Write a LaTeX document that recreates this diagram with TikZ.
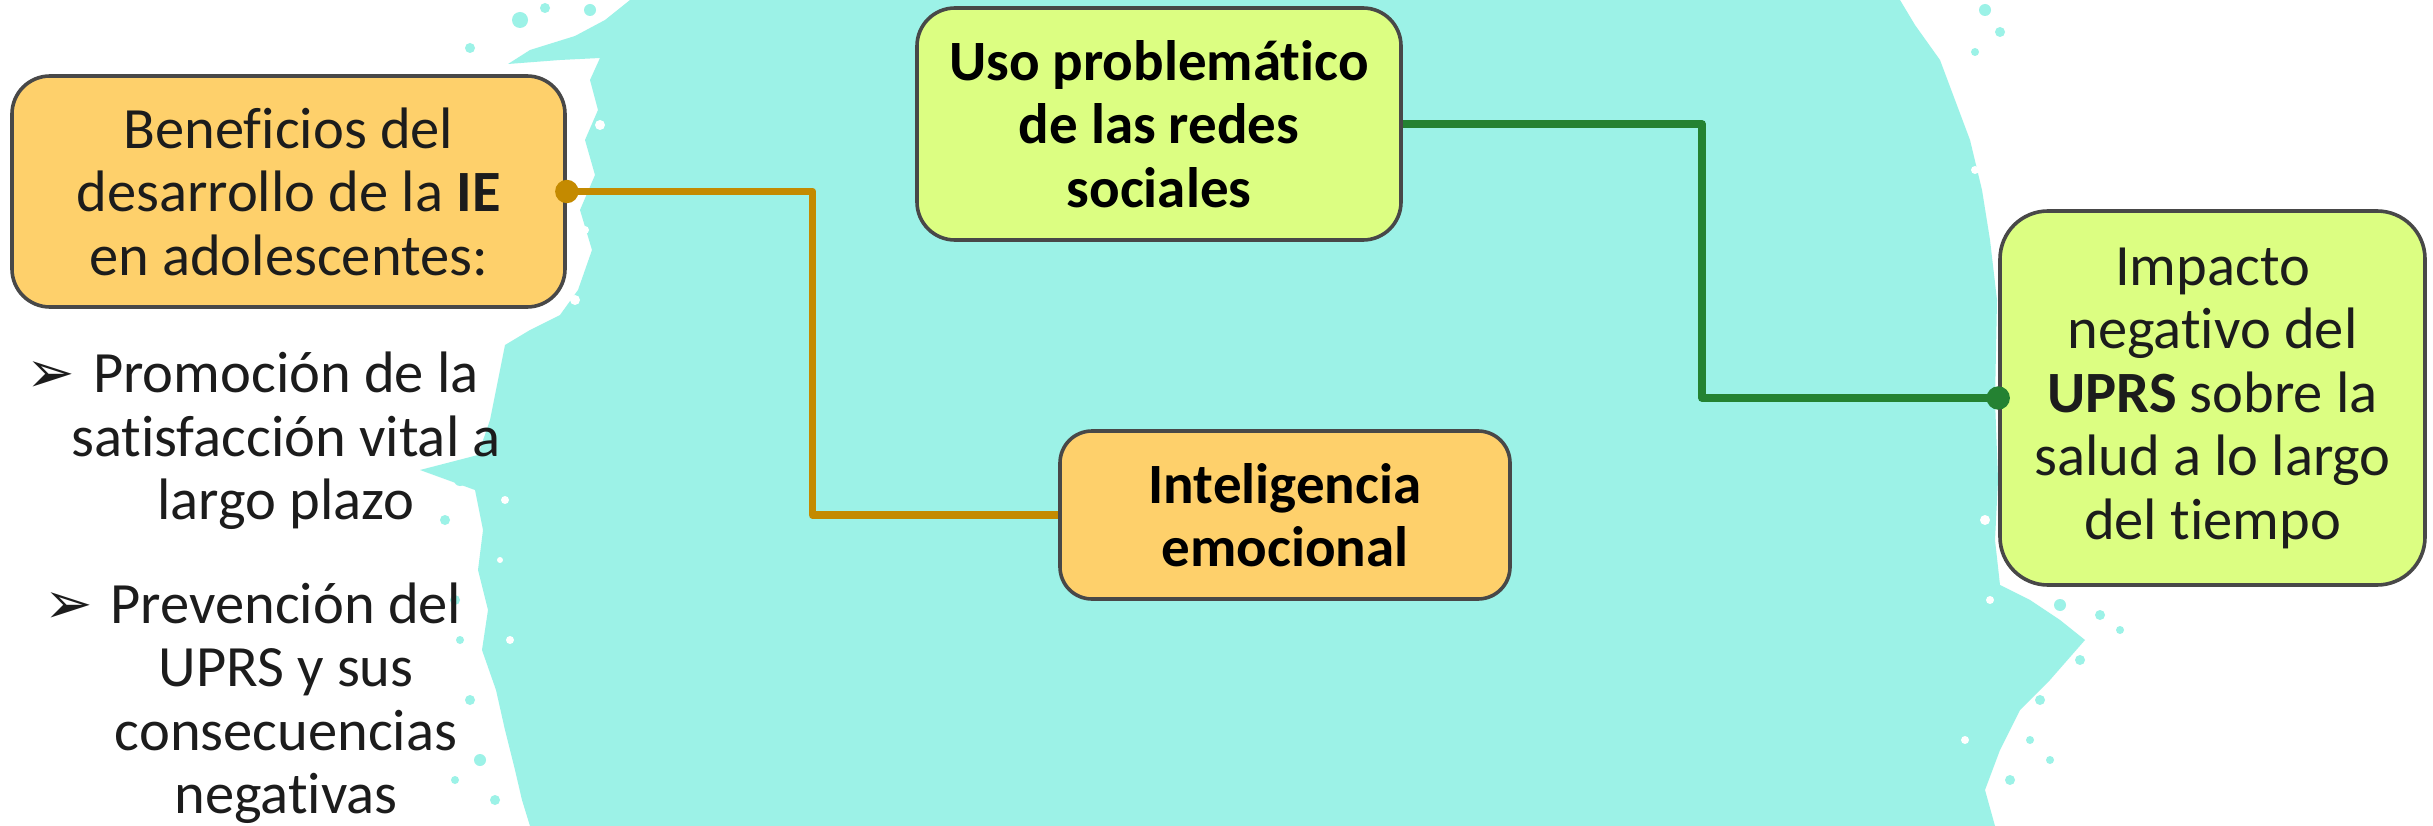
\documentclass[tikz,border=0pt]{standalone}
\usepackage{fontspec}
\setmainfont{Carlito}[Ligatures=NoCommon]
\newfontfamily\symfont{DejaVu Sans}
\definecolor{splash}{RGB}{156,242,231}
\definecolor{orfill}{RGB}{254,208,107}
\definecolor{grfill}{RGB}{220,254,130}
\definecolor{bordc}{RGB}{72,72,72}
\definecolor{orline}{RGB}{196,138,0}
\definecolor{grline}{RGB}{36,130,50}
\definecolor{txt}{RGB}{28,28,28}
\newcommand{\bul}{{\symfont\fontsize{58}{58}\selectfont ➢}}
\begin{document}
\begin{tikzpicture}[x=1pt,y=-1pt,
  box/.style={draw=bordc, line width=3.6pt, rounded corners=38pt, align=center,
    inner sep=0pt, font=\fontsize{58.5}{63.5}\selectfont, text=txt},
  orbox/.style={box, fill=orfill},
  grbox/.style={box, fill=grfill},
  boldtext/.style={text=black, font=\fontsize{57}{63.5}\selectfont\bfseries},
  plain/.style={align=center, inner sep=0pt, font=\fontsize{58.5}{63.5}\selectfont, text=txt},
  orcon/.style={draw=orline, line width=7.5pt, line join=round},
  grcon/.style={draw=grline, line width=7.5pt, line join=round},
  ordot/.style={fill=orline},
  grdot/.style={fill=grline}]
\useasboundingbox (0,0) rectangle (2433,826);
\fill[white] (0,0) rectangle (2433,826);
% splash background
\fill[splash] (630,0) -- (605,20) -- (575,36) -- (530,50) -- (508,64) -- (560,60) -- (600,58)
  -- (590,80) -- (598,110) -- (585,140) -- (595,175) -- (580,210) -- (592,250) -- (578,290)
  -- (560,315) -- (530,330) -- (505,345) -- (498,380) -- (490,420) -- (478,455) -- (420,470)
  -- (475,490) -- (483,530) -- (478,570) -- (488,610) -- (482,650) -- (496,690) -- (505,730)
  -- (515,770) -- (522,800) -- (530,826) -- (1995,826) -- (1985,790) -- (2000,750)
  -- (2020,710) -- (2050,680) -- (2085,640) -- (2060,620) -- (2030,600) -- (2000,585)
  -- (1995,540) -- (1998,480) -- (1995,400) -- (1997,300) -- (1990,240) -- (1982,190)
  -- (1970,140) -- (1955,100) -- (1940,60) -- (1915,25) -- (1900,0) -- cycle;
\foreach \x/\y/\r in {520/20/8,545/8/5,590/10/6,470/48/5,460/480/6,445/520/5,455/600/5,
  460/640/4,470/700/5,480/760/6,495/800/5,455/780/4,1985/10/6,2000/32/5,1975/52/4,
  2060/605/6,2100/615/5,2120/630/4,2080/660/5,2040/700/5,2030/740/4,2010/780/5,
  1985/810/4,2050/760/4}
  \fill[splash] (\x,\y) circle (\r);
% white streaks inside the splash edges
\foreach \x/\y/\r in {600/125/5,585/230/4,575/300/5,505/500/4,500/560/3,510/640/4,
  1975/170/4,1985/520/5,1990/600/4,1965/740/4}
  \fill[white] (\x,\y) circle (\r);
% boxes
\node[orbox, minimum width=553pt, minimum height=231pt] (ben) at (288.5,191.5)
  {Beneficios del\\desarrollo de la \textbf{IE}\\en adolescentes:};
\node[grbox, boldtext, minimum width=484pt, minimum height=232pt] (uso) at (1159,124)
  {Uso problemático\\de las redes\\sociales};
\node[orbox, boldtext, minimum width=450pt, minimum height=168pt, rounded corners=32pt] (ie) at (1285,515)
  {Inteligencia\\emocional};
\node[grbox, minimum width=425pt, minimum height=374pt, rounded corners=48pt] (imp) at (2212.5,398)
  {Impacto\\negativo del\\\textbf{UPRS} sobre la\\salud a lo largo\\del tiempo};
% bullet list
\node[plain] (b1) at (286,441)
  {\llap{\bul\hspace{18pt}}Promoción de la\\satisfacción vital a\\largo plazo};
\node[plain] (b2) at (286,703)
  {\llap{\bul\hspace{18pt}}Prevención del\\UPRS y sus\\consecuencias\\negativas};
% connectors
\coordinate (oc) at (812.5,300);
\coordinate (gc) at (1702,250);
\draw[orcon] (ben.east) -| (oc) |- (ie.west);
\draw[grcon] (uso.east) -| (gc) |- (imp.west);
\fill[ordot] (ben.east) circle (11.7);
\fill[grdot] (imp.west) circle (11.7);
\end{tikzpicture}
\end{document}
